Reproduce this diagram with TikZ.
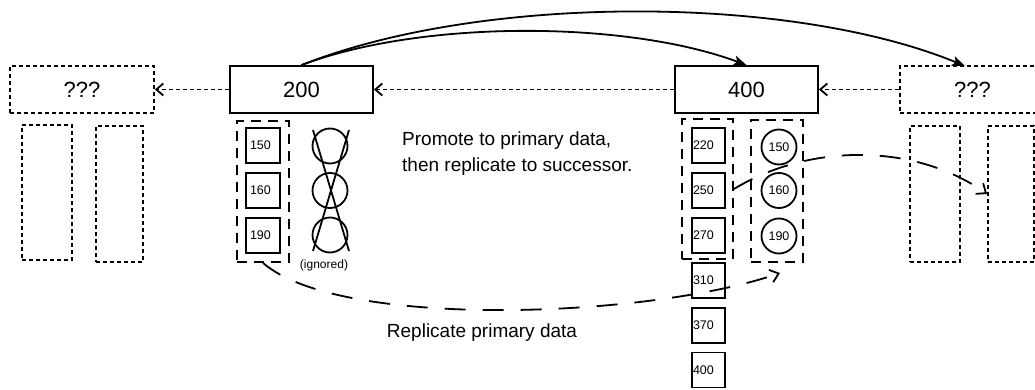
\documentclass[tikz,border=0pt]{standalone}
\usepackage{fontspec}
\setmainfont{Liberation Sans}
\usetikzlibrary{arrows.meta}

\begin{document}
\begin{tikzpicture}[x=1pt,y=-1pt,
  dotpat/.style={dash pattern=on 4pt off 3pt},
  peer/.style={draw, line width=1.8pt, minimum width=143pt, minimum height=47pt,
    inner sep=0pt, font=\fontsize{22}{26}\selectfont},
  ghost/.style={peer, dotpat},
  ghostcol/.style={draw, dotpat, line width=1.8pt, inner sep=0pt},
  group/.style={draw, dash pattern=on 10pt off 7pt, line width=1.8pt, inner sep=0pt},
  key/.style={draw, line width=1.8pt, minimum height=35pt, inner ysep=0pt,
    align=left, font=\fontsize{12.5}{14}\selectfont},
  keyA/.style={key, text width=26pt, inner xsep=4pt},
  keyB/.style={key, text width=31pt, inner xsep=1pt},
  rep/.style={draw, circle, line width=1.8pt, minimum size=35pt, inner sep=0pt,
    font=\fontsize{12.5}{14}\selectfont},
  note/.style={font=\fontsize{19}{26}\selectfont, align=left, inner sep=0pt},
  link/.style={-{Straight Barb[length=7pt,width=12pt]}, line width=1.8pt, dotpat},
  jump/.style={-{Stealth[length=13pt,width=10pt,inset=3pt]}, line width=1.8pt},
  flow/.style={-{Straight Barb[length=8pt,width=13pt]}, line width=1.8pt,
    dash pattern=on 21pt off 17pt}
]
\useasboundingbox (0,0) rectangle (1035,390);

% ring members
\node[ghost, minimum width=144pt] (lq) at (82,89.5) {???};
\node[peer] (n200) at (301.5,89.5) {200};
\node[peer] (n400) at (746.5,89.5) {400};
\node[ghost, minimum width=145pt] (rq) at (972.5,89.5) {???};

% unknown neighbours' storage
\node[ghostcol, minimum width=50pt, minimum height=135pt] (lcol1) at (47,192.5) {};
\node[ghostcol, minimum width=47pt, minimum height=136pt] (lcol2) at (119.5,194) {};
\node[ghostcol, minimum width=50pt, minimum height=136pt] (rcol1) at (935,194) {};
\node[ghostcol, minimum width=46pt, minimum height=136pt] (rcol2) at (1011,194) {};

% node 200: primary keys and discarded replicas
\node[group, minimum width=52pt, minimum height=141pt] (col200) at (263,191.5) {};
\node[keyA] (k150) at (263,145.5) {150};
\node[keyA] (k160) at (263,190.5) {160};
\node[keyA] (k190) at (263,235.5) {190};

\node[rep] (x1) at (330,146) {};
\node[rep] (x2) at (330,190.5) {};
\node[rep] (x3) at (330,235) {};
\coordinate (xtl) at (313,130);
\coordinate (xtr) at (349,130);
\coordinate (xbl) at (313,251);
\coordinate (xbr) at (349,251);
\draw[line width=1.8pt] (xtl) -- (xbr);
\draw[line width=1.8pt] (xtr) -- (xbl);
\node[font=\fontsize{12}{14}\selectfont, inner sep=0pt] (ign) at (324,265) {(ignored)};

% node 400: primary keys and replicas
\node[group, minimum width=51pt, minimum height=140pt] (col400a) at (707.5,189) {};
\node[group, minimum width=52pt, minimum height=142pt] (col400b) at (777,191) {};
\node[keyB] (k220) at (708.5,145.5) {220};
\node[keyB] (k250) at (708.5,190.5) {250};
\node[keyB] (k270) at (708.5,235.5) {270};
\node[keyB] (k310) at (708.5,280.5) {310};
\node[keyB] (k370) at (708.5,325.5) {370};
\node[keyB] (k400) at (708.5,370) {400};

\node[rep] (r150) at (779,147) {150};
\node[rep] (r160) at (779,190.5) {160};
\node[rep] (r190) at (779,236) {190};

% predecessor links
\draw[link] (n400.west) -- (n200.east);
\draw[link] (rq.west) -- (n400.east);
\draw[link] (n200.west) -- (lq.east);

% successor jumps
\coordinate (rqtop) at (965,66);
\draw[jump] (n200.north) .. controls (420,20) and (625,20) .. (n400.north);
\draw[jump] (n200.north) .. controls (480,-6) and (790,-6) .. (rqtop);

% data movement
\coordinate (repend) at (780,273);
\draw[flow] (col200.south) .. controls (340,330) and (650,318) .. (repend);
\draw[flow] (col400a.east) .. controls (810,143) and (915,143) .. (rcol2.west);

\node[note, anchor=west] (promote) at (402,154)
  {Promote to primary data,\\then replicate to successor.};
\node[note] (replab) at (482,333) {Replicate primary data};
\end{tikzpicture}
\end{document}
